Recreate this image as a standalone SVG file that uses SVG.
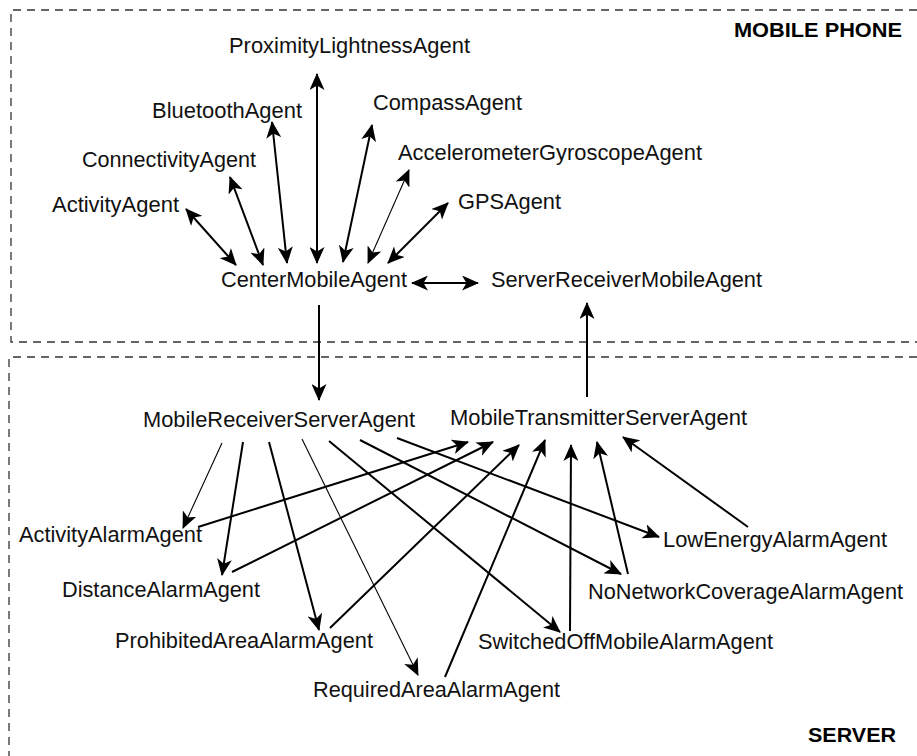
<svg xmlns="http://www.w3.org/2000/svg" width="917" height="756" viewBox="0 0 917 756">
<style>
.bg{fill:#ffffff}
.box{fill:none;stroke:#333333;stroke-width:1.3;stroke-dasharray:8 6}
.lbl{font-family:"Liberation Sans",Arial,sans-serif;font-size:22px;fill:#111111}
.hdr{font-family:"Liberation Sans",Arial,sans-serif;font-size:21px;font-weight:bold;fill:#000000}
.c{stroke:#000000;stroke-width:2;fill:none}
.t{stroke:#000000;stroke-width:1.1;fill:none}
.one{marker-end:url(#ah)}
.two{marker-start:url(#ah);marker-end:url(#ah)}
</style>
<defs>
<marker id="ah" viewBox="0 0 17 15" refX="16" refY="7.5" markerWidth="17" markerHeight="15" markerUnits="userSpaceOnUse" orient="auto-start-reverse">
<path d="M0,0 L17,7.5 L0,15 L4.5,7.5 z" fill="#000000"/>
</marker>
</defs>
<rect class="bg" x="0" y="0" width="917" height="756"/>
<g id="regions">
<path class="box" d="M917,10 H11 V342 H917"/>
<path class="box" d="M917,357 H9 V756"/>
<text class="hdr" x="734" y="37" textLength="168" lengthAdjust="spacingAndGlyphs">MOBILE PHONE</text>
<text class="hdr" x="808" y="742" textLength="88" lengthAdjust="spacingAndGlyphs">SERVER</text>
</g>
<g id="connectors">
<line class="c two" x1="186" y1="209" x2="236" y2="265"/>
<line class="c two" x1="230" y1="177" x2="263" y2="265"/>
<line class="c two" x1="272" y1="122" x2="287" y2="263"/>
<line class="c two" x1="317" y1="74" x2="317" y2="263"/>
<line class="c two" x1="372" y1="125" x2="343" y2="262"/>
<line class="t two" x1="409" y1="170" x2="368" y2="263"/>
<line class="c two" x1="448" y1="203" x2="388" y2="263"/>
<line class="c two" x1="412" y1="283" x2="478" y2="283"/>
<line class="c one" x1="319" y1="305" x2="319" y2="400"/>
<line class="c one" x1="587" y1="397" x2="587" y2="303"/>
<line class="t one" x1="222" y1="443" x2="183" y2="528"/>
<line class="c one" x1="243" y1="442" x2="222" y2="575"/>
<line class="c one" x1="269" y1="442" x2="319" y2="630"/>
<line class="t one" x1="302" y1="439" x2="418" y2="675"/>
<line class="c one" x1="329" y1="441" x2="560" y2="632"/>
<line class="c one" x1="360" y1="440" x2="621" y2="574"/>
<line class="c one" x1="397" y1="438" x2="659" y2="537"/>
<line class="c one" x1="198" y1="527" x2="468" y2="442"/>
<line class="c one" x1="232" y1="572" x2="493" y2="442"/>
<line class="c one" x1="330" y1="628" x2="519" y2="445"/>
<line class="c one" x1="445" y1="677" x2="545" y2="440"/>
<line class="c one" x1="570" y1="631" x2="571" y2="445"/>
<line class="c one" x1="628" y1="574" x2="597" y2="442"/>
<line class="c one" x1="748" y1="527" x2="623" y2="437"/>
</g>
<g id="n-proximity"><text class="lbl" x="229" y="53" textLength="241" lengthAdjust="spacingAndGlyphs">ProximityLightnessAgent</text></g>
<g id="n-bluetooth"><text class="lbl" x="152" y="118" textLength="150" lengthAdjust="spacingAndGlyphs">BluetoothAgent</text></g>
<g id="n-compass"><text class="lbl" x="373" y="110" textLength="149" lengthAdjust="spacingAndGlyphs">CompassAgent</text></g>
<g id="n-connectivity"><text class="lbl" x="82" y="167" textLength="174" lengthAdjust="spacingAndGlyphs">ConnectivityAgent</text></g>
<g id="n-accelerometer"><text class="lbl" x="398" y="160" textLength="304" lengthAdjust="spacingAndGlyphs">AccelerometerGyroscopeAgent</text></g>
<g id="n-activity"><text class="lbl" x="52" y="212" textLength="127" lengthAdjust="spacingAndGlyphs">ActivityAgent</text></g>
<g id="n-gps"><text class="lbl" x="458" y="209" textLength="103" lengthAdjust="spacingAndGlyphs">GPSAgent</text></g>
<g id="n-center"><text class="lbl" x="221" y="287" textLength="186" lengthAdjust="spacingAndGlyphs">CenterMobileAgent</text></g>
<g id="n-serverreceiver"><text class="lbl" x="491" y="287" textLength="271" lengthAdjust="spacingAndGlyphs">ServerReceiverMobileAgent</text></g>
<g id="n-mobilereceiver"><text class="lbl" x="143" y="427" textLength="272" lengthAdjust="spacingAndGlyphs">MobileReceiverServerAgent</text></g>
<g id="n-mobiletransmitter"><text class="lbl" x="450" y="425" textLength="297" lengthAdjust="spacingAndGlyphs">MobileTransmitterServerAgent</text></g>
<g id="n-activityalarm"><text class="lbl" x="19" y="542" textLength="183" lengthAdjust="spacingAndGlyphs">ActivityAlarmAgent</text></g>
<g id="n-lowenergy"><text class="lbl" x="663" y="547" textLength="224" lengthAdjust="spacingAndGlyphs">LowEnergyAlarmAgent</text></g>
<g id="n-distance"><text class="lbl" x="62" y="597" textLength="198" lengthAdjust="spacingAndGlyphs">DistanceAlarmAgent</text></g>
<g id="n-nonetwork"><text class="lbl" x="588" y="599" textLength="315" lengthAdjust="spacingAndGlyphs">NoNetworkCoverageAlarmAgent</text></g>
<g id="n-prohibited"><text class="lbl" x="115" y="648" textLength="258" lengthAdjust="spacingAndGlyphs">ProhibitedAreaAlarmAgent</text></g>
<g id="n-switchedoff"><text class="lbl" x="478" y="649" textLength="295" lengthAdjust="spacingAndGlyphs">SwitchedOffMobileAlarmAgent</text></g>
<g id="n-required"><text class="lbl" x="313" y="697" textLength="247" lengthAdjust="spacingAndGlyphs">RequiredAreaAlarmAgent</text></g>
</svg>
